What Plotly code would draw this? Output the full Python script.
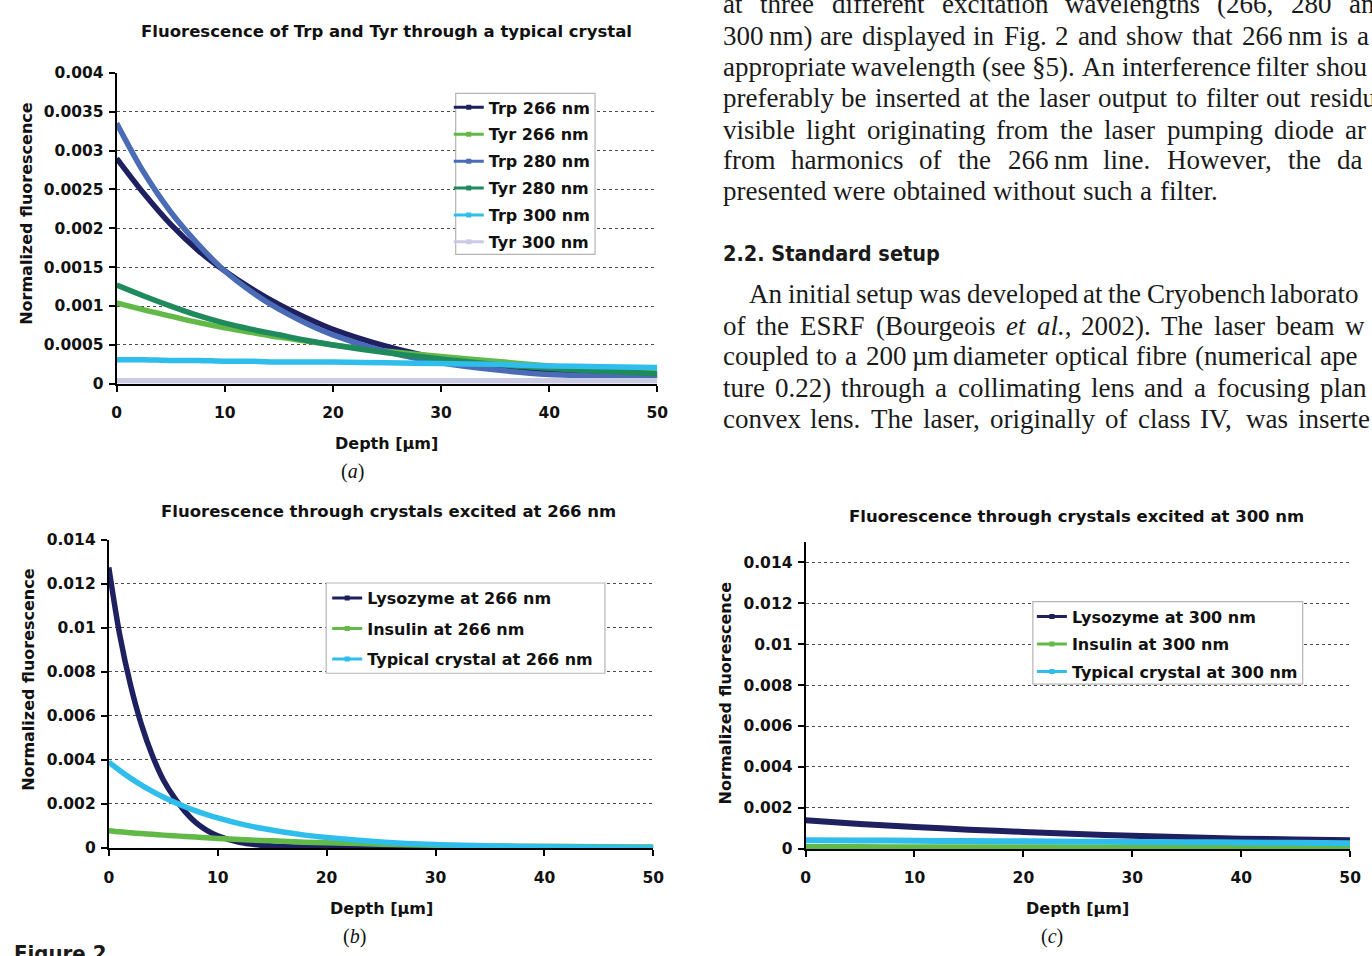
import plotly.graph_objects as go

W, H = 1372, 956

# ---------------- data ----------------
depth_a = [0, 2.5, 5, 7.5, 10, 12.5, 15, 17.5, 20, 25, 30, 35, 40, 45, 50]
trp_266 = [0.00290, 0.00245, 0.00205, 0.00172, 0.00145, 0.00122, 0.00102, 0.00085, 0.00070, 0.00048, 0.00032, 0.00021, 0.00015, 0.00012, 0.00010]
tyr_266 = [0.00104, 0.00095, 0.00087, 0.00079, 0.00072, 0.00066, 0.00060, 0.00055, 0.00050, 0.00042, 0.00035, 0.00029, 0.00023, 0.00018, 0.00014]
trp_280 = [0.00335, 0.00272, 0.00221, 0.00180, 0.00145, 0.00118, 0.00096, 0.00078, 0.00063, 0.00041, 0.00027, 0.00018, 0.00012, 0.00010, 0.00008]
tyr_280 = [0.00127, 0.00113, 0.00100, 0.00088, 0.00078, 0.00070, 0.00063, 0.00056, 0.00050, 0.00040, 0.00032, 0.00025, 0.00020, 0.00016, 0.00013]
trp_300 = [0.00031, 0.00031, 0.00030, 0.00030, 0.00029, 0.00029, 0.00028, 0.00028, 0.00028, 0.00027, 0.00026, 0.00025, 0.00023, 0.00022, 0.00021]
tyr_300 = [0.00004, 0.00004, 0.00004, 0.00004, 0.00004, 0.00004, 0.00004, 0.00004, 0.00004, 0.00004, 0.00004, 0.00004, 0.00004, 0.00004, 0.00004]

depth_b = [0, 1, 2, 3, 4, 5, 6, 7, 8, 9, 10, 12, 14, 16, 18, 20, 25, 30, 35, 40, 45, 50]
lysozyme_266 = [0.01275, 0.0097, 0.0074, 0.0056, 0.0042, 0.0031, 0.0023, 0.00165, 0.00115, 0.0008, 0.00055, 0.00025, 0.00012, 0.00006, 0.00003, 0.00002, 0.00001, 0, 0, 0, 0, 0]
insulin_266 = [0.00078, 0.00073, 0.00069, 0.00065, 0.00062, 0.00058, 0.00055, 0.00052, 0.00049, 0.00046, 0.00043, 0.00038, 0.00034, 0.00030, 0.00026, 0.00023, 0.00017, 0.00012, 0.00009, 0.00007, 0.00005, 0.00004]
typical_266 = [0.0039, 0.00352, 0.00317, 0.00285, 0.00257, 0.00231, 0.00208, 0.00187, 0.00168, 0.00151, 0.00136, 0.0011, 0.00089, 0.00072, 0.00058, 0.00047, 0.00027, 0.00015, 0.00009, 0.00005, 0.00003, 0.00002]

depth_c = [0, 5, 10, 15, 20, 25, 30, 35, 40, 45, 50]
lysozyme_300 = [0.0014, 0.00122, 0.00107, 0.00094, 0.00083, 0.00073, 0.00064, 0.00057, 0.0005, 0.00046, 0.00042]
insulin_300 = [0.00009, 0.00009, 0.00008, 0.00008, 0.00008, 0.00007, 0.00007, 0.00007, 0.00007, 0.00006, 0.00006]
typical_300 = [0.00042, 0.00041, 0.0004, 0.00038, 0.00037, 0.00035, 0.00034, 0.00033, 0.00031, 0.0003, 0.00028]

xticks = [0, 10, 20, 30, 40, 50]
yticks_a = [0, 0.0005, 0.001, 0.0015, 0.002, 0.0025, 0.003, 0.0035, 0.004]
yticklabels_a = ["0", "0.0005", "0.001", "0.0015", "0.002", "0.0025", "0.003", "0.0035", "0.004"]
yticks_bc = [0, 0.002, 0.004, 0.006, 0.008, 0.01, 0.012, 0.014]
yticklabels_bc = ["0", "0.002", "0.004", "0.006", "0.008", "0.01", "0.012", "0.014"]

names_a = ["Trp 266 nm", "Tyr 266 nm", "Trp 280 nm", "Tyr 280 nm", "Trp 300 nm", "Tyr 300 nm"]
names_b = ["Lysozyme at 266 nm", "Insulin at 266 nm", "Typical crystal at 266 nm"]
names_c = ["Lysozyme at 300 nm", "Insulin at 300 nm", "Typical crystal at 300 nm"]

titles = ["Fluorescence of Trp and Tyr through a typical crystal",
          "Fluorescence through crystals excited at 266 nm",
          "Fluorescence through crystals excited at 300 nm"]

# ---------------- styles ----------------
NAVY = "#1e2060"
LGREEN = "#62b947"
MBLUE = "#4a6bb5"
TEAL = "#1f8a5c"
CYAN = "#2fbdeb"
LAV = "#cbcae4"
colors_a = [NAVY, LGREEN, MBLUE, TEAL, CYAN, LAV]
colors_bc = [NAVY, LGREEN, CYAN]

CF = "DejaVu Sans, Verdana, sans-serif"
SERIF = "Liberation Serif, Times New Roman, serif"
NARROW = "Liberation Sans Narrow, Arial Narrow, DejaVu Sans Condensed, sans-serif"


def px(x):
    return x / W


def py(y):
    return 1 - y / H


fig = go.Figure()

panels = [
    dict(ax="", depth=depth_a, ys=[trp_266, tyr_266, trp_280, tyr_280, trp_300, tyr_300],
         names=names_a, colors=colors_a, lw=5.5, legend="legend",
         dom_x=(113, 660), dom_y=(65, 382), yr=0.004, yt=yticks_a, ytl=yticklabels_a),
    dict(ax="2", depth=depth_b, ys=[lysozyme_266, insulin_266, typical_266],
         names=names_b, colors=colors_bc, lw=5.5, legend="legend2",
         dom_x=(105, 656), dom_y=(541, 855), yr=0.014, yt=yticks_bc, ytl=yticklabels_bc),
    dict(ax="3", depth=depth_c, ys=[lysozyme_300, insulin_300, typical_300],
         names=names_c, colors=colors_bc, lw=6, legend="legend3",
         dom_x=(810, 1361), dom_y=(543, 856), yr=0.015, yt=yticks_bc, ytl=yticklabels_bc),
]

layout_axes = {}
for i, p in enumerate(panels):
    xa, ya = "x" + p["ax"], "y" + p["ax"]
    for k, (yv, nm, col) in enumerate(zip(p["ys"], p["names"], p["colors"])):
        fig.add_trace(go.Scatter(x=p["depth"], y=yv, mode="lines", name=nm,
                                 line=dict(color=col, width=p["lw"], shape="spline", smoothing=0.9),
                                 xaxis=xa, yaxis=ya, showlegend=False, hoverinfo="skip"))
    for k, (nm, col) in enumerate(zip(p["names"], p["colors"])):
        fig.add_trace(go.Scatter(x=[None], y=[None], mode="lines+markers", name=nm,
                                 line=dict(color=col, width=3),
                                 marker=dict(color=col, size=5, symbol="square"),
                                 xaxis=xa, yaxis=ya, legend=p["legend"],
                                 legendgroup="g%d_%d" % (i, k), showlegend=True))
    key = p["ax"]
    layout_axes["xaxis" + key] = dict(
        domain=[px(p["dom_x"][0]), px(p["dom_x"][1])], range=[0, 50],
        anchor=ya, tickvals=xticks, ticktext=[str(v) for v in xticks],
        showgrid=False, zeroline=False, showline=True, linecolor="black", linewidth=2,
        ticks="outside", ticklen=6, tickwidth=2, tickcolor="black",
        tickfont=dict(family=CF, size=15.5, color="#111", weight="bold"),
        ticklabelstandoff=8, fixedrange=True)
    layout_axes["yaxis" + key] = dict(
        domain=[py(p["dom_y"][1]), py(p["dom_y"][0])], range=[0, p["yr"]],
        anchor=xa, tickvals=p["yt"], ticktext=p["ytl"],
        showgrid=True, gridcolor="#4a4a4a", griddash="dot", gridwidth=1.3,
        zeroline=False, showline=True, linecolor="black", linewidth=2,
        ticks="outside", ticklen=6, tickwidth=2, tickcolor="black",
        tickfont=dict(family=CF, size=15.5, color="#111", weight="bold"),
        ticklabelstandoff=2, fixedrange=True)

fig.update_layout(**layout_axes)

ann = []


def text(x, y, s, size, family=CF, bold=True, angle=0, xanchor="center", color="#111"):
    ann.append(dict(x=px(x), y=py(y), xref="paper", yref="paper", text=s, showarrow=False,
                    xanchor=xanchor, yanchor="middle", textangle=angle,
                    font=dict(family=family, size=size, color=color,
                              weight="bold" if bold else "normal"), borderpad=0))


# chart titles
text(386, 23, titles[0], 16.5)
text(388, 512, titles[1], 16.5)
text(1084, 517, titles[2], 16.5)
# axis titles
for cx, cy in [(386, 443), (381, 917), (1085, 917)]:
    text(cx, cy, "Depth [µm]", 16)
for cx, cy in [(21, 208), (23, 683), (729, 697)]:
    text(cx, cy, "Normalized fluorescence", 16, angle=-90)
# panel labels
for cx, cy, lab in [(352, 471, "a"), (354, 945, "b"), (1059, 945, "c")]:
    text(cx, cy, "(<i>%s</i>)" % lab, 20, family=SERIF, bold=False)

# legend boxes (border) as shapes
shapes = []
for (x0, y0, x1, y1) in [(456, 86, 597, 250), (325, 585, 607, 677), (1040, 604, 1313, 688)]:
    shapes.append(dict(type="rect", xref="paper", yref="paper", x0=px(x0), x1=px(x1),
                       y0=py(y1), y1=py(y0), line=dict(color="#b5b5b5", width=1.2),
                       fillcolor="white", layer="above"))

LEG = dict(bgcolor="rgba(0,0,0,0)", borderwidth=0, xanchor="left", yanchor="top",
           font=dict(family=CF, size=16, color="#111", weight="bold"),
           itemclick=False, itemdoubleclick=False)
fig.update_layout(
    legend=dict(LEG, x=px(489 - 40), y=py(101 - 18), tracegroupgap=3.1),
    legend2=dict(LEG, x=px(366 - 40), y=py(601 - 18), tracegroupgap=6.7),
    legend3=dict(LEG, x=px(1079 - 40), y=py(620 - 18), tracegroupgap=3.7),
)

# ---------------- article text (right column) ----------------
BODY_FS = 27
TIMES = {' ': 250, '(': 333, ')': 333, ',': 250, '-': 333, '.': 250, ':': 278, ';': 278,
         '§': 500, 'µ': 500, '\u2009': 170}
for c in "0123456789":
    TIMES[c] = 500
TIMES.update(dict(A=722, B=667, C=667, D=722, E=611, F=556, G=722, H=722, I=333, J=389, K=722,
                  L=611, M=889, N=722, O=722, P=556, Q=722, R=667, S=556, T=611, U=722, V=722,
                  W=944, X=722, Y=722, Z=611,
                  a=444, b=500, c=444, d=500, e=444, f=333, g=500, h=500, i=278, j=278, k=500,
                  l=278, m=778, n=500, o=500, p=500, q=500, r=333, s=389, t=278, u=500, v=500,
                  w=722, x=500, y=500, z=444))


def wwidth(word):
    plain = word.replace("<i>", "").replace("</i>", "")
    return sum(TIMES.get(ch, 500) for ch in plain) / 1000 * BODY_FS


body_lines = [
    (725, 4, ["at", "three", "different", "excitation", "wavelengths", "(266,", "280", "an"], 1359),
    (725, 37, ["300\u2009nm)", "are", "displayed", "in", "Fig.", "2", "and", "show", "that", "266\u2009nm", "is", "a"], 1367),
    (725, 68, ["appropriate", "wavelength", "(see", "§5).", "An", "interference", "filter", "shou"], 1325),
    (725, 100, ["preferably", "be", "inserted", "at", "the", "laser", "output", "to", "filter", "out", "residu"], 1319),
    (725, 132, ["visible", "light", "originating", "from", "the", "laser", "pumping", "diode", "ar"], 1355),
    (725, 163, ["from", "harmonics", "of", "the", "266\u2009nm", "line.", "However,", "the", "da"], 1347),
    (725, 195, ["presented", "were", "obtained", "without", "such", "a", "filter."], 1168),
    (752, 300, ["An", "initial", "setup", "was", "developed", "at", "the", "Cryobench", "laborato"], 1279),
    (725, 332, ["of", "the", "ESRF", "(Bourgeois", "<i>et</i>", "<i>al.</i>,", "2002).", "The", "laser", "beam", "w"], 1355),
    (725, 363, ["coupled", "to", "a", "200\u2009µm", "diameter", "optical", "fibre", "(numerical", "ape"], 1329),
    (725, 395, ["ture", "0.22)", "through", "a", "collimating", "lens", "and", "a", "focusing", "plan"], 1329),
    (725, 427, ["convex", "lens.", "The", "laser,", "originally", "of", "class", "IV,", "was", "inserte"], 1307),
]

for x0, base, words, xlast in body_lines:
    widths = [wwidth(w) for w in words]
    gap = (xlast - x0 - sum(widths[:-1])) / (len(words) - 1)
    xcur = x0
    for w, wd in zip(words, widths):
        text(xcur, base - 0.34 * BODY_FS, w, BODY_FS, family=SERIF, bold=False, xanchor="left", color="#1a1a1a")
        xcur += wd + gap

text(725, 249, "2.2. Standard setup", 21.5, family=NARROW, bold=True, xanchor="left", color="#1a1a1a")
text(8, 963, "Figure 2", 22, family=NARROW, bold=True, xanchor="left", color="#1a1a1a")

fig.update_layout(
    width=W, height=H, autosize=False, margin=dict(l=0, r=0, t=0, b=0),
    paper_bgcolor="white", plot_bgcolor="white",
    annotations=ann, shapes=shapes, showlegend=True,
)

fig.write_html(
    "out.html", config={"displayModeBar": False, "responsive": False},
    post_script=("document.documentElement.style.margin='0';"
                 "document.body.style.margin='0';document.body.style.padding='0';"
                 "document.body.style.overflow='hidden';"
                 "document.documentElement.style.overflow='hidden';"))
